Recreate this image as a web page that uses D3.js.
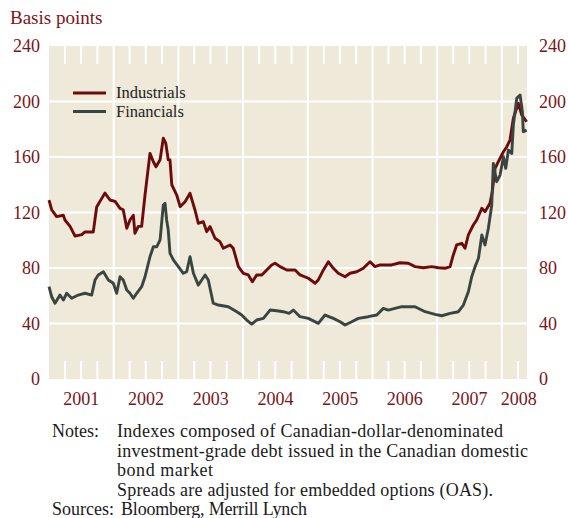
<!DOCTYPE html>
<html><head><meta charset="utf-8">
<script src="https://cdn.jsdelivr.net/npm/d3@7"></script>
<style>
body{margin:0;background:#fff}
svg{display:block}
text{font-family:"Liberation Serif","Times New Roman",serif}
</style>
</head><body><svg width="568" height="518"></svg>
<script>
const industrialsDates = ["2001-01-01","2001-01-16","2001-02-13","2001-03-23","2001-04-01","2001-04-30","2001-05-28","2001-07-05","2001-07-23","2001-09-08","2001-09-27","2001-10-25","2001-11-13","2001-12-11","2002-01-09","2002-02-06","2002-02-24","2002-03-16","2002-04-03","2002-04-22","2002-05-01","2002-05-20","2002-06-08","2002-06-27","2002-07-25","2002-08-13","2002-08-28","2002-09-20","2002-10-08","2002-10-22","2002-11-05","2002-11-15","2002-11-25","2002-12-23","2003-01-11","2003-02-08","2003-03-08","2003-04-05","2003-04-24","2003-05-22","2003-06-10","2003-06-29","2003-07-27","2003-08-24","2003-09-12","2003-10-20","2003-11-07","2003-12-06","2004-01-03","2004-01-31","2004-02-23","2004-03-18","2004-04-16","2004-05-14","2004-06-11","2004-06-30","2004-07-28","2004-09-04","2004-10-21","2004-11-18","2005-01-04","2005-02-11","2005-03-01","2005-03-30","2005-04-27","2005-05-25","2005-06-22","2005-07-30","2005-08-27","2005-10-04","2005-11-10","2005-12-18","2006-01-15","2006-02-13","2006-04-19","2006-06-05","2006-07-22","2006-08-29","2006-10-15","2006-12-01","2007-01-08","2007-02-14","2007-03-15","2007-04-02","2007-04-21","2007-05-20","2007-06-07","2007-06-26","2007-07-24","2007-08-12","2007-09-10","2007-09-28","2007-10-26","2007-11-08","2007-11-24","2007-12-12","2008-01-10","2008-01-29","2008-02-16","2008-03-06","2008-04-03","2008-04-22","2008-05-20"];
const industrialsValues = [129,122,117,118,114.6,110,103,104,106,106,124,130,134,129,128,123,122,108.6,114.6,118,105,110,110,132.6,162.6,156.6,153,158,173.5,170,158,157.8,140,132.6,124.2,127.8,133.8,121.8,112.2,113.4,106.2,109.8,101.4,99,94.2,96.6,94.2,81,76.2,75,70.1,75,75,78.6,82.2,83.4,81,78.6,78.6,75,72.6,69,71.4,78.6,84.5,79.8,76.2,73.7,76.2,77.3,79.8,84.5,81,82.2,82.2,83.8,83.4,81,80.2,81,80.2,79.8,81,89.4,96.6,97.8,94.2,103.8,111,114.6,123,120.6,126.6,135,151.8,156.6,163.8,167.4,172.2,187.9,198.7,190.3,185.4];

const financialsDates = ["2001-01-01","2001-01-16","2001-02-04","2001-03-04","2001-03-23","2001-04-11","2001-05-09","2001-06-15","2001-07-23","2001-08-30","2001-09-18","2001-10-06","2001-11-04","2001-12-02","2001-12-30","2002-01-18","2002-02-06","2002-02-24","2002-03-16","2002-04-03","2002-04-22","2002-05-11","2002-06-08","2002-06-27","2002-07-25","2002-08-13","2002-09-01","2002-09-20","2002-10-08","2002-10-18","2002-10-27","2002-11-05","2002-11-15","2002-12-04","2003-01-01","2003-01-29","2003-02-17","2003-03-08","2003-03-27","2003-04-24","2003-06-01","2003-06-19","2003-07-17","2003-08-15","2003-10-10","2003-11-27","2003-12-25","2004-01-22","2004-02-19","2004-03-18","2004-04-25","2004-06-02","2004-07-09","2004-08-16","2004-09-17","2004-10-11","2004-11-18","2005-01-04","2005-03-01","2005-04-08","2005-05-25","2005-07-02","2005-07-30","2005-09-06","2005-10-13","2005-12-08","2006-01-25","2006-03-03","2006-03-31","2006-05-08","2006-06-15","2006-07-22","2006-08-29","2006-10-25","2006-12-20","2007-01-27","2007-03-15","2007-05-01","2007-05-29","2007-06-26","2007-07-15","2007-08-03","2007-08-22","2007-09-10","2007-09-28","2007-10-17","2007-11-05","2007-11-14","2007-12-03","2007-12-22","2008-01-10","2008-01-23","2008-02-07","2008-02-26","2008-03-06","2008-03-25","2008-04-13","2008-04-26","2008-05-01","2008-05-20"];
const financialsValues = [66.5,59.3,54.6,60.5,56.9,61.8,58.2,60.5,61.8,60.5,71.4,75,77.3,71.4,69,61.8,73.7,71.4,64.1,61.8,58.2,61.8,66.5,73.7,88.1,95.3,95.3,100.2,125.4,126.6,114.6,107.4,90.6,85.8,81,76.2,77.3,88.1,76.2,67.7,75,71.4,54.6,53.3,52.1,48.5,46.1,42.5,39.6,42.5,43.7,49.7,49.2,48.5,47.3,49.7,44.9,43.7,40.1,46.1,43.7,41.3,38.9,41.3,43.7,44.9,46.1,50.9,49.7,50.9,52.1,52.1,52.1,48.5,46.6,45.6,47.3,48.5,53.3,62.9,73.7,81,87,103.8,96.6,108.6,125.4,155.4,142.2,147,160.2,151.8,165,162.6,183,202.3,204.7,192.6,178.2,179.4];

const yTicks = [0,40,80,120,160,200,240];
const yearLabels = ["2001","2002","2003","2004","2005","2006","2007","2008"];
const seriesNames = ["Industrials","Financials"];
const noteLines = ["Indexes composed of Canadian-dollar-denominated","investment-grade debt issued in the Canadian domestic","bond market","Spreads are adjusted for embedded options (OAS)."];
const sourceText = "Bloomberg, Merrill Lynch";

const parse = d3.timeParse("%Y-%m-%d");
const ind = industrialsDates.map((d,i)=>({date:parse(d), v:industrialsValues[i]}));
const fin = financialsDates.map((d,i)=>({date:parse(d), v:financialsValues[i]}));

const svg = d3.select("svg");
const L=49, R=527, T=46, B=379;
const x = d3.scaleTime().domain([new Date(2001,0,1), new Date(2008,4,22)]).range([L,R]);
const y = d3.scaleLinear().domain([0,240]).range([B,T]);

const red = "#7a1518", lineRed = "#6d0a0e", lineGrey = "#3a4540", bg = "#eee9d8";

svg.append("text").attr("x",10).attr("y",24).attr("fill",red).attr("font-size",19).text("Basis points");

svg.append("rect").attr("x",L).attr("y",T).attr("width",R-L).attr("height",B-T).attr("fill",bg);

// horizontal gridlines
svg.append("g").selectAll("line").data(yTicks.filter(t=>t>0&&t<240)).join("line")
  .attr("x1",L).attr("x2",R).attr("y1",d=>y(d)).attr("y2",d=>y(d))
  .attr("stroke","#fff").attr("stroke-width",2);

// year gridlines
const years = yearLabels.map(s=>new Date(+s,0,1));
svg.append("g").selectAll("line").data(years.slice(1)).join("line")
  .attr("x1",d=>x(d)).attr("x2",d=>x(d)).attr("y1",T).attr("y2",B)
  .attr("stroke","#fff").attr("stroke-width",2);

// quarter ticks
const quarters = d3.timeMonth.every(3).range(new Date(2001,0,1), new Date(2008,4,22)).filter(d=>d.getMonth()!==0);
const qg = svg.append("g");
quarters.forEach(d=>{
  qg.append("line").attr("x1",x(d)).attr("x2",x(d)).attr("y1",T).attr("y2",T+18).attr("stroke","#fff").attr("stroke-width",2);
  qg.append("line").attr("x1",x(d)).attr("x2",x(d)).attr("y1",B-18).attr("y2",B).attr("stroke","#fff").attr("stroke-width",2);
});

// lines
const line = d3.line().x(d=>x(d.date)).y(d=>y(d.v)).curve(d3.curveLinear);
svg.append("path").datum(ind).attr("d",line).attr("fill","none").attr("stroke",lineRed).attr("stroke-width",2.9).attr("stroke-linejoin","round");
svg.append("path").datum(fin).attr("d",line).attr("fill","none").attr("stroke",lineGrey).attr("stroke-width",2.9).attr("stroke-linejoin","round");

// axes
const la = svg.append("g").attr("transform",`translate(${L},0)`).call(d3.axisLeft(y).tickValues(yTicks).tickSize(0).tickPadding(9));
const ra = svg.append("g").attr("transform",`translate(${R},0)`).call(d3.axisRight(y).tickValues(yTicks).tickSize(0).tickPadding(12));
[la,ra].forEach(g=>{
  g.select(".domain").remove();
  g.selectAll("text").attr("fill",red).attr("font-size",18).attr("font-family","Liberation Serif, serif");
});

// year labels
const end = x.domain()[1];
svg.append("g").selectAll("text").data(years).join("text")
  .attr("x",(d,i)=>{
    const next = new Date(d.getFullYear()+1,0,1);
    return next > end ? x(d)-1 : (x(d)+x(next))/2;
  })
  .attr("text-anchor",(d)=> new Date(d.getFullYear()+1,0,1) > end ? "start" : "middle")
  .attr("y",405).attr("fill",red).attr("font-size",18).text((d,i)=>yearLabels[i]);

// legend
const lg = svg.append("g");
[lineRed,lineGrey].forEach((c,i)=>{
  const yy = 93 + i*18.5;
  lg.append("line").attr("x1",73).attr("x2",106).attr("y1",yy).attr("y2",yy).attr("stroke",c).attr("stroke-width",3);
  lg.append("text").attr("x",116).attr("y",yy+5).attr("font-size",16.5).attr("fill","#222").text(seriesNames[i]);
});

// notes
const ng = svg.append("g").attr("fill","#1a1a1a").attr("font-size",18);
ng.append("text").attr("x",52).attr("y",437).text("Notes:");
const widths = [386,411,96,376];
noteLines.forEach((t,i)=>{
  ng.append("text").attr("x",117).attr("y",437+i*19.5).attr("textLength",widths[i]).attr("lengthAdjust","spacing").text(t);
});
ng.append("text").attr("x",52).attr("y",515).text("Sources:");
ng.append("text").attr("x",121).attr("y",515).attr("textLength",186).attr("lengthAdjust","spacing").text(sourceText);
</script>
</body></html>
